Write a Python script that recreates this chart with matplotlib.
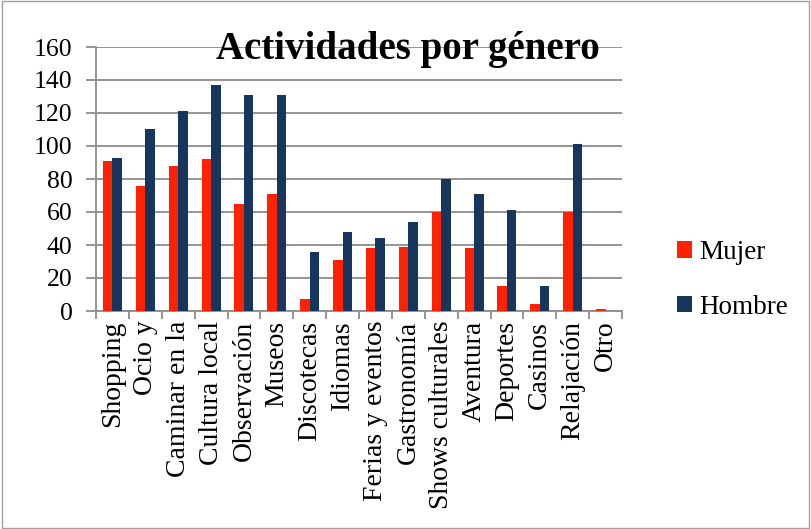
import numpy as np
import matplotlib.pyplot as plt
from matplotlib.patches import Rectangle

# Datos
categorias = ['Shopping', 'Ocio y', 'Caminar en la', 'Cultura local', 'Observación',
              'Museos', 'Discotecas', 'Idiomas', 'Ferias y eventos', 'Gastronomía',
              'Shows culturales', 'Aventura', 'Deportes', 'Casinos', 'Relajación', 'Otro']
mujer = [91, 76, 88, 92, 65, 71, 7, 31, 38, 39, 60, 38, 15, 4, 60, 1]
hombre = [93, 110, 121, 137, 131, 131, 36, 48, 44, 54, 80, 71, 61, 15, 101, 0]

plt.rcParams['font.family'] = ['Liberation Serif', 'DejaVu Serif']

fig = plt.figure(figsize=(8.11, 5.29), dpi=100)
ax = fig.add_axes([96 / 811, 1 - 311 / 529, 526 / 811, 264 / 529])

x = np.arange(len(categorias))
w = 0.29
ax.bar(x - w / 2, mujer, w, color='#FF2200', label='Mujer', zorder=3)
ax.bar(x + w / 2, hombre, w, color='#17365D', label='Hombre', zorder=3)

ax.set_xlim(-0.5, len(categorias) - 0.5)
ax.set_ylim(0, 160)
ax.set_yticks(range(0, 161, 20))
ax.yaxis.grid(True, color='#8c8c8c', linewidth=1.3, zorder=0)
ax.tick_params(axis='y', labelsize=18.5, length=7, width=1.3, color='#8c8c8c', pad=10)

ax.set_xticks(x)
ax.set_xticklabels(categorias, rotation=90, fontsize=20)
ax.tick_params(axis='x', length=0, pad=7)
ax.set_xticks(np.arange(-0.5, len(categorias)), minor=True)
ax.tick_params(axis='x', which='minor', length=6, color='#8c8c8c', width=1.3)

for side in ['top', 'right']:
    ax.spines[side].set_visible(False)
for side in ['left', 'bottom']:
    ax.spines[side].set_color('#8c8c8c')
    ax.spines[side].set_linewidth(1.3)

fig.text(408 / 811, 1 - 49 / 529, 'Actividades por género', ha='center', va='center',
         fontsize=28, fontweight='bold')

fig.legend(loc='center left', bbox_to_anchor=(653 / 811, 1 - 280 / 529), frameon=False,
           fontsize=19.5, handlelength=0.55, handleheight=0.55, handletextpad=0.25,
           labelspacing=1.1)

fig.patches.append(Rectangle((0.002, 0.002), 0.996, 0.996, transform=fig.transFigure,
                             fill=False, edgecolor='#a0a0a0', linewidth=1))

fig.savefig('out.png', dpi=100)
